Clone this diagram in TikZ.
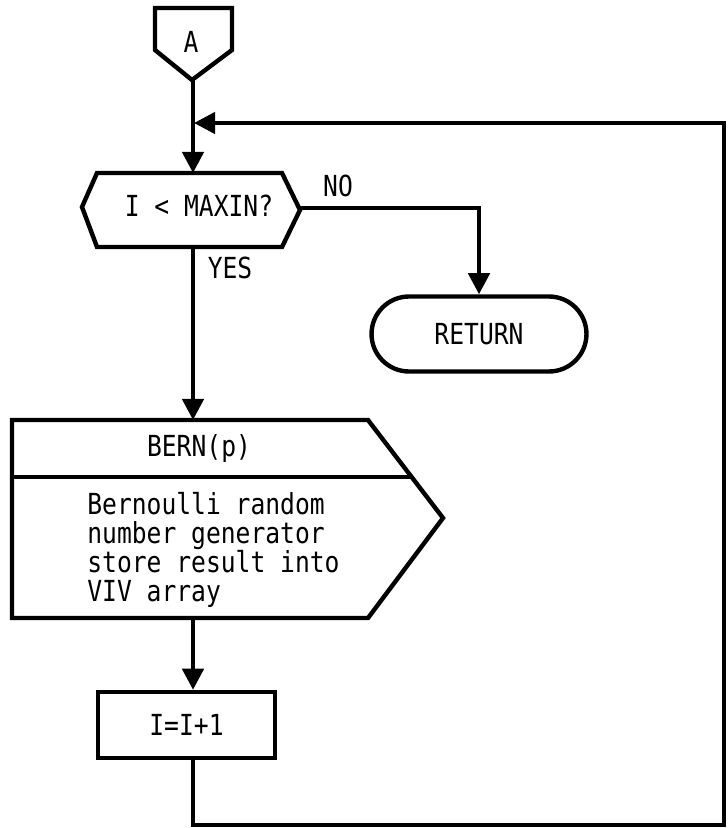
\documentclass[tikz,border=0pt]{standalone}
\usepackage{fontspec}
\setmonofont[FakeStretch=0.85]{DejaVu Sans Mono}
\usetikzlibrary{arrows.meta, shapes.misc}
\tikzset{
    flow/.style={line width=2.5pt, line join=miter},
    arrow/.style={flow, -{Triangle[length=12pt, width=12pt]}},
    txt/.style={font=\ttfamily\fontsize{16.5}{16.4}\selectfont, inner sep=0pt},
    procbox/.style={draw, flow, rectangle, minimum width=3.54cm, minimum height=1.32cm},
    termbox/.style={draw, flow, rounded rectangle, minimum width=4.3cm, minimum height=1.5cm}
}
\begin{document}
\begin{tikzpicture}[x=0.02cm, y=-0.02cm]
    \useasboundingbox (0,0) rectangle (727,828);

    % off-page connector A
    \draw[flow] (155,8) -- (232,8) -- (232,50) -- (192,80) -- (155,50) -- cycle;
    \node[txt] (a) at (191,42) {A};
    \coordinate (aout) at (193,80);

    % decision
    \draw[flow] (97,173) -- (282,173) -- (300,210) -- (282,247) -- (97,247) -- (82,207) -- cycle;
    \node[txt] (test) at (199,206) {I < MAXIN?};
    \coordinate (testin) at (193,173);
    \coordinate (testno) at (300,208);
    \coordinate (testyes) at (193,247);
    \node[txt] (no) at (338,186) {NO};
    \node[txt] (yes) at (230,268) {YES};

    % return
    \node[txt, termbox] (ret) at (479,334) {RETURN};

    % BERN(p) block
    \draw[flow] (12,420) -- (368,420) -- (443,518) -- (368,618) -- (12,618) -- cycle;
    \draw[flow] (12,477) -- (412,477);
    \node[txt] (bern) at (199,449) {BERN(p)};
    \node[txt, anchor=west, align=left] (bernbody) at (87,550)
        {Bernoulli random\\number generator\\store result into\\VIV array};
    \coordinate (bernin) at (193,420);
    \coordinate (bernout) at (193,618);

    % counter
    \node[txt, procbox] (inc) at (186.5,725) {I=I+1};

    % loop back corners
    \coordinate (join) at (194,123);
    \coordinate (c1) at (193,825);
    \coordinate (c2) at (724,825);
    \coordinate (c3) at (724,123);

    % connecting edges
    \draw[arrow] (aout) -- (testin);
    \draw[arrow] (testno) -| (ret.north);
    \draw[arrow] (testyes) -- (bernin);
    \draw[arrow] (bernout) -- (bernout |- inc.north);
    \draw[arrow] (inc.south -| bernout) -- (c1) -- (c2) -- (c3) -- (join);
\end{tikzpicture}
\end{document}
